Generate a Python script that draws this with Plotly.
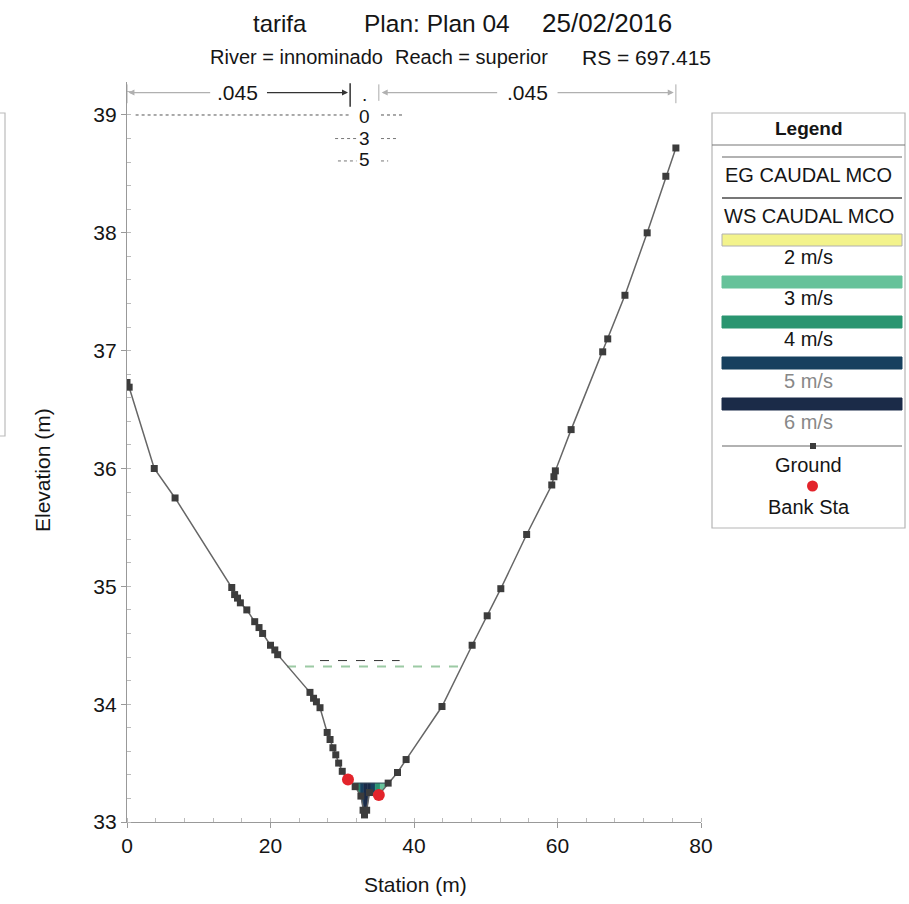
import numpy as np
import plotly.graph_objects as go

# ---------------- data ----------------
ground_sta = [0.0, 0.3, 3.8, 6.7, 14.6, 15.0, 15.4, 15.8, 16.7, 17.8, 18.4, 18.9,
              20.0, 20.6, 21.0, 25.5, 26.0, 26.4, 26.9, 27.9, 28.3, 28.7, 29.1,
              29.5, 30.0, 30.8, 31.8, 32.6, 32.9, 33.1, 33.4, 33.8, 35.1, 36.4,
              37.7, 38.9, 43.9, 48.1, 50.2, 52.1, 55.7, 59.2, 59.5, 59.7, 61.9,
              66.3, 67.0, 69.4, 72.5, 75.1, 76.5]
ground_elev = [36.73, 36.69, 36.00, 35.75, 34.99, 34.93, 34.90, 34.86, 34.80, 34.70,
               34.65, 34.60, 34.50, 34.46, 34.42, 34.10, 34.05, 34.02, 33.97, 33.76,
               33.70, 33.63, 33.57, 33.50, 33.43, 33.36, 33.30, 33.22, 33.10, 33.06,
               33.10, 33.25, 33.23, 33.33, 33.42, 33.53, 33.98, 34.50, 34.75, 34.98,
               35.44, 35.86, 35.93, 35.98, 36.33, 36.99, 37.10, 37.47, 38.00, 38.48,
               38.72]
bank_sta = [30.8, 35.1]
bank_elev = [33.36, 33.23]

ws_elev = 33.33
eg_elev = 34.32
eg_sta = [22.3, 46.6]
eg2_elev = 34.37
eg2_sta = [26.9, 38.0]

vel_edges = [31.4, 32.0, 32.5, 33.0, 33.5, 34.0, 34.6, 35.3, 36.4]
vel_values = [2.6, 3.4, 4.6, 5.4, 5.2, 4.3, 3.3, 2.4]
vel_levels = [2, 3, 4, 5, 6]
vel_labels = ["2 m/s", "3 m/s", "4 m/s", "5 m/s", "6 m/s"]
vel_colors = ["#f3f38c", "#66c29a", "#2a9570", "#17405f", "#1b2b48"]

n_values = [".045", ".035", ".045"]

x_ticks = [0, 20, 40, 60, 80]
y_ticks = [33, 34, 35, 36, 37, 38, 39]

# ---------------- geometry helpers (pixel -> paper) ----------------
L, R, T, B = 127, 701, 82, 822
def xp(px):
    return (px - L) / (R - L)
def yp(py):
    return (B - py) / (B - T)

FONT = "Liberation Sans, Arial, sans-serif"
TXT = "#151515"

fig = go.Figure()

# velocity slices
gs = np.array(ground_sta)
ge = np.array(ground_elev)
for i, v in enumerate(vel_values):
    a, b = vel_edges[i], vel_edges[i + 1]
    inner = [(s, e) for s, e in zip(ground_sta, ground_elev) if a < s < b]
    xs = [a] + [p[0] for p in inner] + [b]
    ys = [float(np.interp(a, gs, ge))] + [p[1] for p in inner] + [float(np.interp(b, gs, ge))]
    ys = [min(y, ws_elev) for y in ys]
    idx = int(np.searchsorted(vel_levels, v))
    idx = min(idx, len(vel_colors) - 1)
    col = vel_colors[idx]
    fig.add_trace(go.Scatter(x=xs + [b, a, a], y=ys + [ws_elev, ws_elev, ys[0]],
                             fill="toself", fillcolor=col, mode="lines",
                             line=dict(color=col, width=0.5), hoverinfo="skip",
                             showlegend=False))

# water surface
fig.add_trace(go.Scatter(x=[vel_edges[0], vel_edges[-1]], y=[ws_elev, ws_elev],
                         mode="lines", line=dict(color="#3a4a5a", width=1),
                         showlegend=False, hoverinfo="skip"))
# energy grade lines
fig.add_trace(go.Scatter(x=eg_sta, y=[eg_elev, eg_elev], mode="lines",
                         line=dict(color="#9ccaa4", width=2, dash="dash"),
                         showlegend=False, hoverinfo="skip"))
fig.add_trace(go.Scatter(x=eg2_sta, y=[eg2_elev, eg2_elev], mode="lines",
                         line=dict(color="#333333", width=1, dash="dash"),
                         showlegend=False, hoverinfo="skip"))

# ground
fig.add_trace(go.Scatter(x=ground_sta, y=ground_elev, mode="lines+markers",
                         line=dict(color="#666666", width=1.5),
                         marker=dict(symbol="square", size=7, color="#3c3c3c"),
                         showlegend=False))
# bank stations
fig.add_trace(go.Scatter(x=bank_sta, y=bank_elev, mode="markers",
                         marker=dict(symbol="circle", size=12, color="#e3242b"),
                         showlegend=False))

shapes = []
annos = []

# top dashed line near 39
shapes.append(dict(type="line", xref="x", yref="y", x0=1.2, x1=31.0, y0=39.0, y1=39.0,
                   line=dict(color="#555555", width=1, dash="dot")))
shapes.append(dict(type="line", xref="x", yref="y", x0=35.4, x1=38.5, y0=39.0, y1=39.0,
                   line=dict(color="#555555", width=1, dash="dot")))
for (x0, x1, yy) in [(29.0, 32.0, 38.80), (35.4, 37.5, 38.80), (29.4, 32.0, 38.61), (35.4, 36.4, 38.61)]:
    shapes.append(dict(type="line", xref="x", yref="y", x0=x0, x1=x1, y0=yy, y1=yy,
                       line=dict(color="#777777", width=1, dash="dot")))

# n-value brackets
yb = 39.19
left0, left1 = ground_sta[0], bank_sta[0]
right0, right1 = bank_sta[1], ground_sta[-1]
shapes.append(dict(type="line", xref="x", yref="y", x0=left0, x1=left0, y0=39.10, y1=39.26,
                   line=dict(color="#aaaaaa", width=1)))
shapes.append(dict(type="line", xref="x", yref="y", x0=left1 + 0.3, x1=left1 + 0.3, y0=39.07, y1=39.27,
                   line=dict(color="#333333", width=1.5)))
shapes.append(dict(type="line", xref="x", yref="y", x0=right0, x1=right0, y0=39.12, y1=39.26,
                   line=dict(color="#aaaaaa", width=1)))
shapes.append(dict(type="line", xref="x", yref="y", x0=right1, x1=right1, y0=39.10, y1=39.26,
                   line=dict(color="#aaaaaa", width=1)))
lm = (left0 + left1) / 2
rm = (right0 + right1) / 2
for tip, tail, col in [(left0 + 0.2, lm - 3.6, "#b0b0b0"), (left1, lm + 3.9, "#333333"),
                       (right0 + 0.4, rm - 4.0, "#b0b0b0"), (right1 - 0.3, rm + 4.0, "#b0b0b0")]:
    annos.append(dict(x=tip, y=yb, ax=tail, ay=yb, xref="x", yref="y", axref="x", ayref="y",
                      text="", showarrow=True, arrowhead=2, arrowsize=1, arrowwidth=1.2,
                      arrowcolor=col))
annos.append(dict(x=lm, y=yb, xref="x", yref="y", text=n_values[0], showarrow=False,
                  xanchor="center", font=dict(family=FONT, size=21, color=TXT)))
annos.append(dict(x=rm, y=yb, xref="x", yref="y", text=n_values[2], showarrow=False,
                  xanchor="center", font=dict(family=FONT, size=21, color=TXT)))
cx = (bank_sta[0] + bank_sta[1]) / 2 + 0.2
for ch, yy in zip(list(n_values[1]), [39.17, 38.99, 38.80, 38.62]):
    annos.append(dict(x=cx, y=yy, xref="x", yref="y", text=ch, showarrow=False,
                      xanchor="center", yanchor="middle",
                      font=dict(family=FONT, size=19, color=TXT)))

# titles
for txt, px_, py_, sz in [("tarifa", 280, 23, 24), ("Plan: Plan 04", 437, 23, 24.5),
                          ("25/02/2016", 607, 23, 26),
                          ("River = innominado", 296, 57, 20), ("Reach = superior", 472, 57, 20),
                          ("RS = 697.415", 646, 57, 21)]:
    annos.append(dict(x=xp(px_), y=yp(py_), xref="paper", yref="paper", text=txt,
                      showarrow=False, xanchor="center", yanchor="middle",
                      font=dict(family=FONT, size=sz, color=TXT)))

# axis titles
annos.append(dict(x=xp(42), y=yp(470), xref="paper", yref="paper", text="Elevation (m)",
                  textangle=-90, showarrow=False, xanchor="center", yanchor="middle",
                  font=dict(family=FONT, size=21, color=TXT)))
annos.append(dict(x=xp(415), y=yp(884), xref="paper", yref="paper", text="Station (m)",
                  showarrow=False, xanchor="center", yanchor="middle",
                  font=dict(family=FONT, size=21, color=TXT)))

# left artifact box
shapes.append(dict(type="path", xref="paper", yref="paper",
                   path=f"M {xp(0)},{yp(113)} L {xp(5)},{yp(113)} L {xp(5)},{yp(436)} L {xp(0)},{yp(436)}",
                   line=dict(color="#bbbbbb", width=1.2)))

# ---------------- manual legend ----------------
LX0, LX1, LY0, LY1 = 712, 905, 113, 528
shapes.append(dict(type="rect", xref="paper", yref="paper", x0=xp(LX0), x1=xp(LX1),
                   y0=yp(LY1), y1=yp(LY0), line=dict(color="#b5b5b5", width=1.2)))
shapes.append(dict(type="line", xref="paper", yref="paper", x0=xp(LX0), x1=xp(LX1),
                   y0=yp(145), y1=yp(145), line=dict(color="#777777", width=1.2)))
cxl = (LX0 + LX1) / 2


def leg_text(txt, py_, col=TXT, size=20):
    annos.append(dict(x=xp(cxl), y=yp(py_), xref="paper", yref="paper", text=txt,
                      showarrow=False, xanchor="center", yanchor="middle",
                      font=dict(family=FONT, size=size, color=col)))


leg_text("<b>Legend</b>", 128, size=19)
shapes.append(dict(type="line", xref="paper", yref="paper", x0=xp(722), x1=xp(902),
                   y0=yp(157), y1=yp(157), line=dict(color="#999999", width=1.5)))
leg_text("EG CAUDAL MCO", 175)
shapes.append(dict(type="line", xref="paper", yref="paper", x0=xp(722), x1=xp(902),
                   y0=yp(198), y1=yp(198), line=dict(color="#777777", width=2)))
leg_text("WS CAUDAL MCO", 216)
bar_y = [240, 282, 322, 363, 404]
lab_y = [257, 298, 339, 381, 422]
lab_col = [TXT, TXT, TXT, "#888888", "#888888"]
for i in range(5):
    shapes.append(dict(type="rect", xref="paper", yref="paper", x0=xp(722), x1=xp(902),
                       y0=yp(bar_y[i] + 6), y1=yp(bar_y[i] - 6), fillcolor=vel_colors[i],
                       line=dict(color="#b0b0b0" if i == 0 else vel_colors[i], width=1)))
    leg_text(vel_labels[i], lab_y[i], lab_col[i])
shapes.append(dict(type="line", xref="paper", yref="paper", x0=xp(722), x1=xp(902),
                   y0=yp(446), y1=yp(446), line=dict(color="#666666", width=1.2)))
shapes.append(dict(type="rect", xref="paper", yref="paper", x0=xp(810), x1=xp(816),
                   y0=yp(449), y1=yp(443), fillcolor="#3c3c3c", line=dict(width=0)))
leg_text("Ground", 465)
shapes.append(dict(type="circle", xref="paper", yref="paper", x0=xp(807), x1=xp(818),
                   y0=yp(491.5), y1=yp(480.5), fillcolor="#e3242b", line=dict(width=0)))
leg_text("Bank Sta", 507)

fig.update_layout(
    width=909, height=904,
    margin=dict(l=L, r=909 - R, t=T, b=904 - B),
    paper_bgcolor="white", plot_bgcolor="white",
    showlegend=False,
    shapes=shapes, annotations=annos,
    xaxis=dict(range=[0, 80], tickvals=x_ticks, showgrid=False, zeroline=False,
               showline=True, linecolor="#999999", linewidth=1.2,
               ticks="outside", ticklen=5, tickcolor="#999999",
               minor=dict(dtick=4, ticks="inside", ticklen=4, tickcolor="#bbbbbb"),
               tickfont=dict(family=FONT, size=21, color=TXT)),
    yaxis=dict(range=[33, 39.28], tickvals=y_ticks, showgrid=False, zeroline=False,
               showline=True, linecolor="#999999", linewidth=1.2,
               ticks="outside", ticklen=5, tickcolor="#999999",
               minor=dict(dtick=0.2, ticks="inside", ticklen=4, tickcolor="#bbbbbb"),
               tickfont=dict(family=FONT, size=21, color=TXT)),
)

fig.write_html("out.html", config={"displayModeBar": False},
               post_script="document.body.style.margin='0';")
